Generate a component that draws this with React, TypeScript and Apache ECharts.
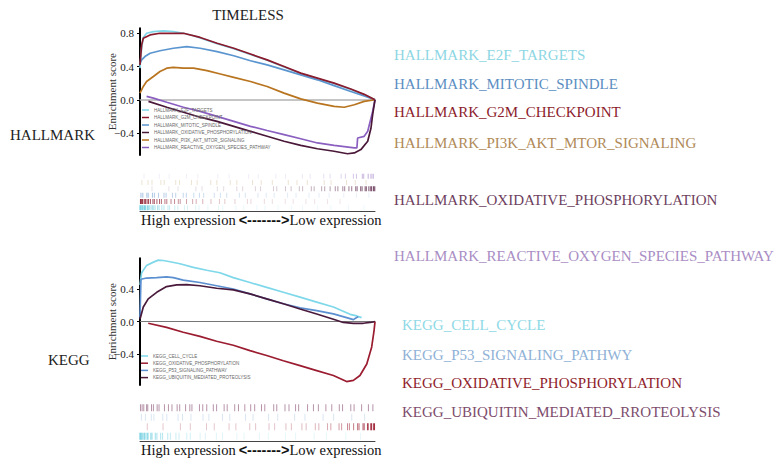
import React, { useEffect, useRef } from "react";
import * as echarts from "echarts";

// ---------------- DATA ----------------
// Running enrichment score curves: [rank position (0-100 %), ES]
const hallmarkE2F = [[0, 0.38], [0.7, 0.62], [1.4, 0.75], [2.8, 0.8], [5.7, 0.82], [10, 0.83], [14.2, 0.82], [18.5, 0.8], [22.8, 0.77], [25.6, 0.745], [32.8, 0.675], [39.9, 0.615], [47, 0.545], [54.1, 0.475], [61.3, 0.395], [68.4, 0.315], [75.5, 0.255], [82.6, 0.195], [89.7, 0.125], [95.4, 0.06], [100, 0]];
const hallmarkG2M = [[0, 0.42], [0.7, 0.66], [1.4, 0.74], [4.3, 0.78], [8.5, 0.8], [14.2, 0.8], [18.5, 0.8], [25.6, 0.75], [32.8, 0.68], [39.9, 0.62], [47, 0.55], [54.1, 0.48], [61.3, 0.4], [68.4, 0.32], [75.5, 0.26], [82.6, 0.2], [89.7, 0.13], [95.4, 0.065], [100, 0]];
const hallmarkMitotic = [[0, 0.44], [0.7, 0.48], [2.1, 0.52], [4.3, 0.56], [8.5, 0.59], [14.2, 0.62], [19.9, 0.64], [25.6, 0.62], [32.8, 0.58], [39.9, 0.53], [47, 0.47], [54.1, 0.42], [61.3, 0.36], [68.4, 0.3], [75.5, 0.24], [82.6, 0.17], [89.7, 0.1], [95.4, 0.045], [100, 0]];
const hallmarkOxphos = [[3.6, -0.02], [11.4, -0.09], [18.5, -0.15], [25.6, -0.21], [32.8, -0.26], [39.9, -0.32], [47, -0.38], [54.1, -0.44], [61.3, -0.5], [68.4, -0.55], [75.5, -0.59], [82.6, -0.62], [88.3, -0.65], [91.2, -0.64], [94, -0.6], [96.9, -0.5], [98.3, -0.34], [99, -0.18], [100, 0]];
const hallmarkPi3k = [[0, 0.08], [1.4, 0.16], [2.8, 0.22], [5.7, 0.28], [8.5, 0.34], [11.4, 0.38], [14.2, 0.39], [18.5, 0.38], [22.8, 0.38], [28.5, 0.35], [34.2, 0.31], [39.9, 0.27], [47, 0.22], [54.1, 0.16], [61.3, 0.08], [68.4, 0.01], [75.5, -0.04], [82.6, -0.08], [86.9, -0.09], [91.2, -0.06], [95.4, -0.02], [100, 0]];
const hallmarkRos = [[2.8, 0.04], [5.7, 0.02], [11.4, -0.03], [18.5, -0.09], [25.6, -0.14], [32.8, -0.2], [39.9, -0.26], [47, -0.32], [54.1, -0.37], [61.3, -0.42], [68.4, -0.47], [75.5, -0.52], [82.6, -0.55], [91.2, -0.58], [92.3, -0.58], [92.6, -0.46], [95.4, -0.44], [96.9, -0.38], [99, -0.14], [100, 0]];

const keggCellCycle = [[0, 0.45], [0.7, 0.6], [2.8, 0.69], [5.7, 0.73], [7.8, 0.755], [9.9, 0.75], [12.8, 0.735], [17, 0.71], [22.7, 0.665], [28.4, 0.63], [34, 0.6], [39.7, 0.54], [46.8, 0.48], [53.9, 0.42], [61, 0.36], [68.1, 0.3], [75.2, 0.24], [82.3, 0.18], [89.4, 0.09], [92.2, 0.07], [94.3, 0.05]];
const keggOxphos = [[3.5, -0.02], [11.3, -0.07], [18.4, -0.13], [25.5, -0.18], [32.6, -0.24], [39.7, -0.29], [46.8, -0.355], [53.9, -0.415], [61, -0.48], [68.1, -0.54], [75.2, -0.6], [82.3, -0.66], [87.9, -0.735], [90.8, -0.72], [93.6, -0.66], [96.5, -0.52], [98.6, -0.31], [99.6, -0.11], [100, 0]];
const keggP53 = [[0, 0.05], [0.4, 0.52], [2.8, 0.535], [7.1, 0.54], [11.3, 0.55], [14.2, 0.54], [18.4, 0.51], [25.5, 0.48], [32.6, 0.44], [39.7, 0.4], [46.8, 0.34], [53.9, 0.28], [61, 0.22], [68.1, 0.17], [75.2, 0.135], [82.3, 0.095], [87.9, 0.05], [90.8, 0.025], [92.2, 0.05], [92.9, 0.06]];
const keggUbiquitin = [[0, 0.03], [1.4, 0.18], [3.5, 0.28], [7.1, 0.36], [11.3, 0.43], [15.6, 0.45], [19.9, 0.453], [25.5, 0.44], [32.6, 0.41], [39.7, 0.39], [46.8, 0.34], [53.9, 0.28], [61, 0.22], [68.1, 0.155], [75.2, 0.094], [82.3, 0.03], [86.5, -0.01], [90.8, -0.02], [95, -0.02], [97.9, -0.01], [100, 0]];

// Gene hit positions (rank %, rug plots)
const hitsE2F = [0, 0.4, 0.9, 1.3, 1.9, 2.4, 3.1, 3.5, 4.2, 5.1, 5.6, 6.4, 7.5, 8.1, 9.3, 10.2, 11.9, 12.6, 14.8, 16.1, 18.9, 20.2, 23.7, 25.1, 28.9, 33.4, 35.2, 40.8, 44.1, 49.7, 53.2, 58.8, 64.5, 69.1, 75.6, 81.2, 88.7, 95.3];
const hitsG2M = [0.2, 0.7, 1.1, 1.8, 2.3, 3, 3.6, 4.4, 5.5, 6.1, 7.2, 8.3, 9.1, 10.6, 11.4, 13.2, 14.7, 16.3, 17.1, 19.8, 22.4, 23.9, 26.7, 30.2, 33.8, 36.1, 40.4, 45.7, 47.2, 52.9, 56.3, 61.8, 65.2, 70.6, 74.3, 79.8, 85.1];
const hitsMitotic = [0.4, 1.2, 2.9, 3.5, 5.3, 6.1, 7.9, 10.2, 11.1, 13.8, 15.2, 18.4, 19.7, 22.9, 25.3, 27.1, 31.6, 34.2, 36.9, 42.3, 44.8, 50.2, 53.7, 57.1, 62.8, 66.4, 71.9, 76.2, 80.5, 86.7, 92.1, 97.4];
const hitsOxphos = [5.1, 12.3, 16.2, 23.8, 26.4, 32.9, 35.6, 41.2, 43.7, 49.1, 51.3, 56.8, 58.2, 61.9, 64.3, 67.8, 69.2, 72.9, 74.1, 77.3, 78.6, 80.9, 83.1, 84.2, 86.3, 87.1, 88.9, 90.1, 91.8, 92.4, 93.9, 94.5, 95.8, 96.3, 97.4, 98.2, 98.6, 99.4, 99.9];
const hitsPi3k = [0.8, 3.4, 5.1, 8.9, 10.3, 15.2, 16.8, 21.9, 24.3, 30.1, 32.7, 38.4, 41.2, 47.9, 51.6, 56.3, 63.1, 66.8, 71.2, 78.4, 81.3, 87.9, 91.6, 96.2];
const hitsRos = [1.7, 8.2, 12.4, 19.8, 24.6, 33.1, 37.9, 46.2, 50.3, 57.8, 61.9, 69.1, 72.4, 78.2, 80.9, 85.6, 87.4, 90.8, 92.1, 94.6, 95.2, 97.1, 98.3, 99.2];

const hitsUbiquitin = [0.2, 0.9, 1.6, 2.8, 3.3, 4.9, 5.7, 7.3, 8.1, 10.4, 12.1, 13.6, 15.8, 16.9, 19.4, 21.2, 22.1, 25.3, 26.7, 28.4, 31.2, 32.6, 35.8, 37.1, 40.3, 41.9, 44.6, 47.1, 48.8, 51.7, 53.1, 56.9, 58.2, 61.7, 63.4, 66.2, 67.5, 71.3, 73.8, 75.9, 79.1, 81.6, 84.8, 86.2, 89.7, 91.1, 94.3, 97.2, 99.1];
const hitsP53 = [0.6, 2.3, 4.8, 5.9, 9.7, 11.4, 16.2, 18.1, 21.7, 26.8, 29.3, 35.1, 38.2, 44.9, 48.1, 54.7, 58.6, 65.8, 70.2, 77.9, 82.4, 90.1, 95.6];
const hitsKeggOxphos = [3.1, 9.8, 17.2, 21.4, 28.3, 31.6, 37.9, 40.8, 46.7, 49.2, 54.9, 57.3, 62.1, 64.4, 68.9, 70.7, 74.6, 76.1, 79.8, 81.2, 84.7, 85.8, 88.3, 89.1, 90.9, 92.6, 93.2, 94.9, 95.4, 96.8, 97.1, 98.2, 98.5, 99.3, 99.8];
const hitsCellCycle = [0, 0.4, 0.9, 1.7, 2.1, 3, 3.4, 4.6, 5.1, 6.5, 7.2, 8.8, 9.6, 11.8, 12.9, 15.3, 16.6, 19.9, 21.4, 25.6, 27.8, 32.5, 35.1, 41.2, 44.3, 50.8, 54.6, 61.9, 66.2, 74.1, 79.3, 87.6, 93.8];

const hallmarkTicks = [0.8, 0.4, 0, -0.4];
const keggTicks = [0.4, 0, -0.4];

const hallmarkLabels = [
  "HALLMARK_E2F_TARGETS",
  "HALLMARK_MITOTIC_SPINDLE",
  "HALLMARK_G2M_CHECKPOINT",
  "HALLMARK_PI3K_AKT_MTOR_SIGNALING",
  "HALLMARK_OXIDATIVE_PHOSPHORYLATION",
  "HALLMARK_REACTIVE_OXYGEN_SPECIES_PATHWAY",
];
const keggLabels = [
  "KEGG_CELL_CYCLE",
  "KEGG_P53_SIGNALING_PATHWY",
  "KEGG_OXIDATIVE_PHOSPHORYLATION",
  "KEGG_UBIQUITIN_MEDIATED_RROTEOLYSIS",
];

// ---------------- STYLE ----------------
const SERIF = "'Liberation Serif', 'DejaVu Serif', serif";
const SANS = "'Liberation Sans', Arial, sans-serif";

const hallmarkLabelPos = [
  { y: 55, color: "#8dd6e3" },
  { y: 84, color: "#5b8ec2" },
  { y: 112, color: "#8c1c2c" },
  { y: 142.5, color: "#b08a58" },
  { y: 200, color: "#6e3f5e" },
  { y: 256, color: "#a98dc4" },
];
const keggLabelPos = [
  { y: 325, color: "#8fd9e6" },
  { y: 355, color: "#8fb1d6" },
  { y: 383, color: "#8f1d2c" },
  { y: 411.5, color: "#7d4c6c" },
];

const fmtTick = (v: number) => {
  if (Math.abs(v) < 1e-9) return "0.0";
  return v < 0 ? "\u2212" + Math.abs(v).toFixed(1) : v.toFixed(1);
};

type Fade = { dir: "left" | "right" | "flat"; fade: number; max: number; min: number };
const rugOpacity = (x: number, f: Fade) => {
  if (f.dir === "flat") return f.max;
  const d = f.dir === "left" ? x : 100 - x;
  return f.min + (f.max - f.min) * Math.exp(-d / f.fade);
};

const lineSeries = (name: string, data: number[][], color: string, axis: number, width = 1.7) => ({
  name,
  type: "line",
  xAxisIndex: axis,
  yAxisIndex: axis,
  data,
  showSymbol: false,
  symbol: "none",
  silent: true,
  color,
  lineStyle: { color, width },
  itemStyle: { color },
  z: 3,
});

const rugSeries = (
  name: string,
  hits: number[],
  row: string,
  color: string,
  axis: number,
  h: number,
  f: Fade
) => ({
  name,
  type: "scatter",
  xAxisIndex: axis,
  yAxisIndex: axis,
  symbol: "rect",
  symbolSize: [1, h],
  silent: true,
  data: hits.map((x) => ({ value: [x, row], itemStyle: { color, opacity: rugOpacity(x, f) } })),
});

export default function App() {
  const ref = useRef<HTMLDivElement>(null);
  useEffect(() => {
    if (!ref.current) return;
    const chart = echarts.init(ref.current, undefined, { renderer: "svg" });

    const plotLeft = 140;
    const plotWidth = 235;

    const valueX = (grid: number, lineColor: string, lineWidth: number, onZero: boolean) => ({
      type: "value",
      gridIndex: grid,
      min: 0,
      max: 100,
      axisLine: { show: true, onZero, lineStyle: { color: lineColor, width: lineWidth } },
      axisTick: { show: false },
      axisLabel: { show: false },
      splitLine: { show: false },
    });

    const esY = (grid: number, min: number, max: number, ticks: number[]) => ({
      type: "value",
      gridIndex: grid,
      min,
      max,
      name: "Enrichment score",
      nameLocation: "middle",
      nameGap: 23,
      nameMoveOverlap: false,
      nameTextStyle: { fontFamily: SERIF, fontSize: 11, color: "#333" },
      axisLine: { show: true, onZero: false, lineStyle: { color: "#000", width: 2 } },
      axisTick: { show: true, length: 3, customValues: ticks, lineStyle: { color: "#000", width: 1 } },
      axisLabel: {
        customValues: ticks,
        formatter: fmtTick,
        fontFamily: SERIF,
        fontSize: 11,
        color: "#222",
        margin: 6,
      },
      splitLine: { show: false },
    });

    const rugY = (grid: number, rows: string[]) => ({
      type: "category",
      gridIndex: grid,
      data: rows,
      show: false,
    });

    const expressionText = (y: number) => ({
      type: "text",
      x: 141,
      y,
      style: {
        text: "{a|High expression}{b|<------->}{a|Low expression}",
        verticalAlign: "middle",
        rich: {
          a: { fontFamily: SERIF, fontSize: 14.5, fill: "#111" },
          b: { fontFamily: SANS, fontSize: 14.5, fontWeight: "bold", fill: "#111", padding: [0, 0, 0, 3] },
        },
      },
    });

    const option = {
      animation: false,
      backgroundColor: "#ffffff",
      grid: [
        { left: plotLeft, top: 28.3, width: plotWidth, height: 126.7 },
        { left: plotLeft, top: 173, width: plotWidth, height: 38 },
        { left: plotLeft, top: 258.3, width: plotWidth, height: 126.7 },
        { left: plotLeft, top: 403, width: plotWidth, height: 38 },
      ],
      xAxis: [
        valueX(0, "#b3b3b3", 1.6, true),
        valueX(1, "#444", 1, false),
        valueX(2, "#777", 1, true),
        valueX(3, "#444", 1, false),
      ],
      yAxis: [
        esY(0, -0.665, 0.86, hallmarkTicks),
        rugY(1, ["E2F", "G2M", "MITOTIC", "OXPHOS", "PI3K", "ROS"]),
        esY(2, -0.777, 0.777, keggTicks),
        rugY(3, ["CELL_CYCLE", "OXPHOS", "P53", "UBIQUITIN"]),
      ],
      legend: [
        {
          orient: "vertical",
          left: 142,
          top: 107.5,
          padding: 0,
          itemGap: 2.5,
          itemWidth: 7,
          itemHeight: 1.5,
          icon: "rect",
          selectedMode: false,
          textStyle: { fontFamily: SANS, fontSize: 4.5, color: "#666", lineHeight: 5 },
          data: [
            "HALLMARK_E2F_TARGETS",
            "HALLMARK_G2M_CHECKPOINT",
            "HALLMARK_MITOTIC_SPINDLE",
            "HALLMARK_OXIDATIVE_PHOSPHORYLATION",
            "HALLMARK_PI3K_AKT_MTOR_SIGNALING",
            "HALLMARK_REACTIVE_OXYGEN_SPECIES_PATHWAY",
          ],
        },
        {
          orient: "vertical",
          left: 141,
          top: 353.5,
          padding: 0,
          itemGap: 2.2,
          itemWidth: 7,
          itemHeight: 1.5,
          icon: "rect",
          selectedMode: false,
          textStyle: { fontFamily: SANS, fontSize: 4.5, color: "#666", lineHeight: 5 },
          data: [
            "KEGG_CELL_CYCLE",
            "KEGG_OXIDATIVE_PHOSPHORYLATION",
            "KEGG_P53_SIGNALING_PATHWAY",
            "KEGG_UBIQUITIN_MEDIATED_PROTEOLYSIS",
          ],
        },
      ],
      series: [
        lineSeries("HALLMARK_E2F_TARGETS", hallmarkE2F, "#7fd6e8", 0),
        lineSeries("HALLMARK_MITOTIC_SPINDLE", hallmarkMitotic, "#5b95cf", 0),
        lineSeries("HALLMARK_PI3K_AKT_MTOR_SIGNALING", hallmarkPi3k, "#b8741e", 0),
        lineSeries("HALLMARK_REACTIVE_OXYGEN_SPECIES_PATHWAY", hallmarkRos, "#8a5fc0", 0),
        lineSeries("HALLMARK_OXIDATIVE_PHOSPHORYLATION", hallmarkOxphos, "#4a1838", 0),
        lineSeries("HALLMARK_G2M_CHECKPOINT", hallmarkG2M, "#8b1a2c", 0),

        rugSeries("rug_E2F", hitsE2F, "E2F", "#5cc8dc", 1, 5, { dir: "left", fade: 10, max: 1, min: 0.12 }),
        rugSeries("rug_G2M", hitsG2M, "G2M", "#8b1a2c", 1, 5, { dir: "left", fade: 20, max: 0.95, min: 0.1 }),
        rugSeries("rug_MIT", hitsMitotic, "MITOTIC", "#5b8fc8", 1, 5, { dir: "left", fade: 35, max: 0.55, min: 0.1 }),
        rugSeries("rug_OX", hitsOxphos, "OXPHOS", "#5a2448", 1, 5, { dir: "right", fade: 22, max: 0.9, min: 0.12 }),
        rugSeries("rug_PI3K", hitsPi3k, "PI3K", "#b8904e", 1, 5, { dir: "flat", fade: 1, max: 0.25, min: 0.25 }),
        rugSeries("rug_ROS", hitsRos, "ROS", "#9670c0", 1, 5, { dir: "right", fade: 12, max: 0.7, min: 0.12 }),

        lineSeries("KEGG_CELL_CYCLE", keggCellCycle, "#7fd8ea", 2),
        lineSeries("KEGG_P53_SIGNALING_PATHWAY", keggP53, "#5b8fd0", 2),
        lineSeries("KEGG_UBIQUITIN_MEDIATED_PROTEOLYSIS", keggUbiquitin, "#4a1a3c", 2),
        lineSeries("KEGG_OXIDATIVE_PHOSPHORYLATION", keggOxphos, "#9b1c30", 2),

        rugSeries("rug_UB", hitsUbiquitin, "UBIQUITIN", "#7a3a62", 3, 7, { dir: "flat", fade: 1, max: 0.55, min: 0.55 }),
        rugSeries("rug_P53", hitsP53, "P53", "#6a9ad0", 3, 7, { dir: "flat", fade: 1, max: 0.25, min: 0.25 }),
        rugSeries("rug_KOX", hitsKeggOxphos, "OXPHOS", "#9b1c30", 3, 7, { dir: "right", fade: 12, max: 0.95, min: 0.25 }),
        rugSeries("rug_CC", hitsCellCycle, "CELL_CYCLE", "#5cc8dc", 3, 7, { dir: "left", fade: 10, max: 1, min: 0.15 }),
      ],
      graphic: {
        elements: [
          {
            type: "text",
            x: 248,
            y: 15,
            style: { text: "TIMELESS", fontFamily: SERIF, fontSize: 15, fill: "#222", align: "center", verticalAlign: "middle" },
          },
          {
            type: "text",
            x: 10,
            y: 135,
            style: { text: "HALLMARK", fontFamily: SERIF, fontSize: 15, fill: "#222", verticalAlign: "middle" },
          },
          {
            type: "text",
            x: 48,
            y: 360,
            style: { text: "KEGG", fontFamily: SERIF, fontSize: 15, fill: "#222", verticalAlign: "middle" },
          },
          expressionText(220),
          expressionText(450),
          ...hallmarkLabels.map((t, i) => ({
            type: "text",
            x: 394,
            y: hallmarkLabelPos[i].y,
            style: { text: t, fontFamily: SERIF, fontSize: 15, fill: hallmarkLabelPos[i].color, verticalAlign: "middle" },
          })),
          ...keggLabels.map((t, i) => ({
            type: "text",
            x: 402,
            y: keggLabelPos[i].y,
            style: { text: t, fontFamily: SERIF, fontSize: 15, fill: keggLabelPos[i].color, verticalAlign: "middle" },
          })),
        ],
      },
    };

    chart.setOption(option as any);
    return () => chart.dispose();
  }, []);

  return (
    <div
      ref={ref}
      style={{ position: "fixed", left: 0, top: 0, width: 784, height: 462, background: "#fff" }}
    />
  );
}
